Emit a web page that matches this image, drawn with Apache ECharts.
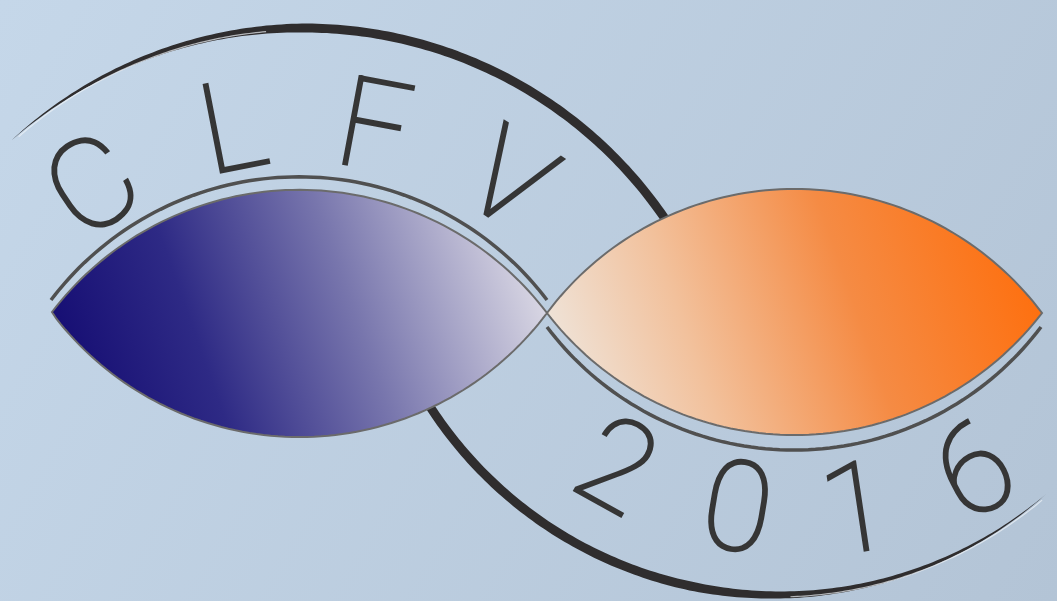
<!DOCTYPE html>
<html>
<head>
<meta charset="utf-8">
<script src="https://cdn.jsdelivr.net/npm/echarts@6/dist/echarts.min.js"></script>
<style>
  html, body { margin: 0; padding: 0; }
  #main { width: 1057px; height: 601px; }
</style>
</head>
<body>
<div id="main"></div>
<script>
// each edge: tip, crest, tip
const blueTop = [[52,312],[310,190],[547,313]];
const blueBottom = [[52,313],[300,437],[547,313]];
const orangeTop = [[547,313],[790,189],[1042,313]];
const orangeBottom = [[547,313],[800,435],[1042,313]];
const upperRail = [[51,300],[310,177],[547,300]];
const lowerRail = [[547,327],[800,450],[1041,327]];

// the two ring arcs: centre, radius, start / end angle (deg)
const ringCenters = [[304, 465], [776, 183]];
const ringRadius = [437, 412];
const ringAngles = [[-132, -26], [155, 49]];

// letters and their angle (deg) around each arc
const topLetters = ['C', 'L', 'F', 'V'];
const topAngles = [-34, -11, 10.5, 32.5];
const yearLetters = ['2', '0', '1', '6'];
const yearAngles = [29, 9.5, -8.5, -27.5];

const topArc = { cx: 305, cy: 500, r: 369 };
const yearArc = { cx: 800, cy: 135, r: 389 };

// points of the circle arc through a, m, b
function arc3(a, m, b, n) {
  const d = 2 * (a[0] * (m[1] - b[1]) + m[0] * (b[1] - a[1]) + b[0] * (a[1] - m[1]));
  const sa = a[0] * a[0] + a[1] * a[1], sm = m[0] * m[0] + m[1] * m[1], sb = b[0] * b[0] + b[1] * b[1];
  const cx = (sa * (m[1] - b[1]) + sm * (b[1] - a[1]) + sb * (a[1] - m[1])) / d;
  const cy = (sa * (b[0] - m[0]) + sm * (a[0] - b[0]) + sb * (m[0] - a[0])) / d;
  const r = Math.hypot(a[0] - cx, a[1] - cy);
  const t0 = Math.atan2(a[1] - cy, a[0] - cx);
  const tm = Math.atan2(m[1] - cy, m[0] - cx);
  const t1 = Math.atan2(b[1] - cy, b[0] - cx);
  // walk the way that passes through m
  const norm = x => { while (x < 0) x += 2 * Math.PI; while (x >= 2 * Math.PI) x -= 2 * Math.PI; return x; };
  let span = norm(t1 - t0);
  if (norm(tm - t0) > span) span = span - 2 * Math.PI;
  const pts = [];
  for (let i = 0; i <= n; i++) {
    const t = t0 + span * i / n;
    pts.push([cx + r * Math.cos(t), cy + r * Math.sin(t)]);
  }
  return pts;
}

function lens(top, bottom) {
  const a = arc3(top[0], top[1], top[2], 80);
  const b = arc3(bottom[0], bottom[1], bottom[2], 80).slice(1, -1).reverse();
  return a.concat(b);
}

// circular band whose width follows taper(s), s = 0..1 from a0 to a1
function arcBand(c, r, a0, a1, maxW, taper) {
  const n = 160, outer = [], inner = [];
  for (let i = 0; i <= n; i++) {
    const s = i / n;
    const t = (a0 + (a1 - a0) * s) * Math.PI / 180;
    const w = maxW * taper(s) / 2;
    outer.push([c[0] + (r + w) * Math.cos(t), c[1] + (r + w) * Math.sin(t)]);
    inner.push([c[0] + (r - w) * Math.cos(t), c[1] + (r - w) * Math.sin(t)]);
  }
  return outer.concat(inner.reverse());
}

function arcLine(c, r, a0, a1) {
  const n = 80, pts = [];
  for (let i = 0; i <= n; i++) {
    const t = (a0 + (a1 - a0) * i / n) * Math.PI / 180;
    pts.push([c[0] + r * Math.cos(t), c[1] + r * Math.sin(t)]);
  }
  return pts;
}

const ringColor = '#2f2d2e';
const letterFont = { fontFamily: 'Roboto', fontSize: 125, fontWeight: 100 };

const elements = [];

elements.push({
  type: 'rect', z: 0,
  shape: { x: 0, y: 0, width: 1057, height: 601 },
  style: {
    fill: { type: 'linear', x: 0, y: 0, x2: 1, y2: 1,
      colorStops: [{ offset: 0, color: '#c5d7e9' }, { offset: 1, color: '#b3c4d6' }] }
  }
});

const tapers = [
  s => s < 0.4 ? Math.pow(s / 0.4, 0.9) : 1,
  s => s > 0.5 ? Math.pow((1 - s) / 0.5, 0.9) : 1
];
ringCenters.forEach((c, i) => {
  elements.push({
    type: 'polygon', z: 1,
    shape: { points: arcBand(c, ringRadius[i], ringAngles[i][0], ringAngles[i][1], 9, tapers[i]) },
    style: { fill: ringColor }
  });
});
// faint light edge under the thin ends
elements.push({
  type: 'polyline', z: 1,
  shape: { points: arcLine(ringCenters[0], ringRadius[0] - 2, ringAngles[0][0] + 1, -95) },
  style: { stroke: '#eef2f7', lineWidth: 1.2, opacity: 0.7, fill: null }
});
elements.push({
  type: 'polyline', z: 1,
  shape: { points: arcLine(ringCenters[1], ringRadius[1] + 2, 88, ringAngles[1][1] + 1) },
  style: { stroke: '#eef2f7', lineWidth: 1.2, opacity: 0.7, fill: null }
});

elements.push({
  type: 'polygon', z: 2,
  shape: { points: lens(blueTop, blueBottom) },
  style: {
    fill: { type: 'linear', x: 0, y: 0.85, x2: 1, y2: 0.15,
      colorStops: [
        { offset: 0, color: '#110870' },
        { offset: 0.3, color: '#2e2a85' },
        { offset: 0.6, color: '#7876ad' },
        { offset: 1, color: '#e8e6ec' }
      ] },
    stroke: '#6b6b6b', lineWidth: 2, lineJoin: 'miter', miterLimit: 12
  }
});
elements.push({
  type: 'polygon', z: 2,
  shape: { points: lens(orangeTop, orangeBottom) },
  style: {
    fill: { type: 'linear', x: 0, y: 0.9, x2: 1, y2: 0.2,
      colorStops: [
        { offset: 0, color: '#eeebe6' },
        { offset: 0.3, color: '#f2c19c' },
        { offset: 0.62, color: '#f58b44' },
        { offset: 1, color: '#ff6c08' }
      ] },
    stroke: '#6b6b6b', lineWidth: 2, lineJoin: 'miter', miterLimit: 12
  }
});

[upperRail, lowerRail].forEach(rail => {
  elements.push({
    type: 'polyline', z: 3,
    shape: { points: arc3(rail[0], rail[1], rail[2], 80) },
    style: { stroke: '#505050', lineWidth: 3.5, lineCap: 'butt', fill: null }
  });
});

function letter(ch, x, y, rot) {
  return {
    type: 'text', z: 4, x: x, y: y, rotation: rot,
    style: Object.assign({
      text: ch, fill: '#363636', stroke: '#363636', lineWidth: 2.5, lineJoin: 'round',
      align: 'center', verticalAlign: 'middle'
    }, letterFont)
  };
}

topLetters.forEach((ch, i) => {
  const a = topAngles[i] * Math.PI / 180;
  elements.push(letter(ch, topArc.cx + topArc.r * Math.sin(a), topArc.cy - topArc.r * Math.cos(a), -a));
});
yearLetters.forEach((ch, i) => {
  const a = yearAngles[i] * Math.PI / 180;
  elements.push(letter(ch, yearArc.cx - yearArc.r * Math.sin(a), yearArc.cy + yearArc.r * Math.cos(a), -a));
});

const chart = echarts.init(document.getElementById('main'));
chart.setOption({
  animation: false,
  graphic: { elements: elements }
});
</script>
</body>
</html>
